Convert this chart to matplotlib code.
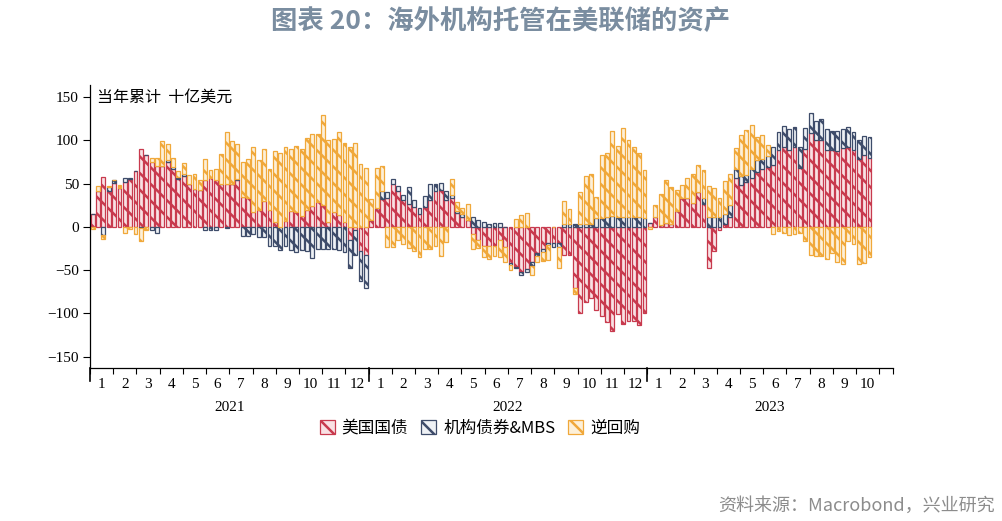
import numpy as np
import matplotlib
matplotlib.use("Agg")
import matplotlib.pyplot as plt
import matplotlib.transforms as mtransforms

plt.rcParams['font.family'] = ['Noto Sans CJK SC', 'DejaVu Sans']
plt.rcParams['hatch.linewidth'] = 1.8

# 当年累计（十亿美元），每周一个柱：2021、2022 各 52 周，2023 至 10 月 42 周
treasury_2021 = [15, 42, 58, 42, 51, 45, 52, 55, 65, 90, 83, 75, 71, 71, 75, 67, 55, 59, 50, 44,
                 43, 54, 57, 54, 50, 50, 50, 54, 35, 33, 17, 20, 30, 20, 6, 0, 7, 18, 17, 13,
                 20, 24, 29, 25, 6, 17, 14, 6, -15, -4, -28, -32]
agency_2021 = [0, 0, -9, 4, 3, 0, 5, 2, 0, -1, 0, -3, -7, 0, 2, 2, 3, 2, 0, 0,
               0, -3, -3, -3, 0, -1, 0, 1, -10, -10, -8, -12, -12, -22, -22, -27, -22, -27, -29, -27,
               -28, -36, -25, -25, -25, -25, -27, -29, -33, -28, -35, -38]
repo_2021 = [-2, 5, -5, 1, 0, 3, -7, -2, -8, -15, -4, 5, 9, 28, 19, 11, 7, 13, 10, 17,
             11, 25, 9, 13, 34, 60, 49, 41, 40, 45, 75, 57, 60, 47, 82, 85, 85, 72, 77, 77,
             83, 84, 78, 104, 94, 85, 96, 91, 93, 97, 73, 68]

treasury_2022 = [8, 22, 32, 34, 50, 42, 31, 27, 23, 15, 23, 31, 41, 43, 31, 34, 16, 12, 8, -8,
                 -15, -22, -22, -22, -15, -23, -42, -46, -52, -49, -40, -30, -25, -18, -19, -19, -32, -32, -70, -100,
                 -87, -82, -96, -103, -110, -120, -101, -112, -109, -109, -113, -100]
agency_2022 = [0, 0, 10, 6, 5, 5, 6, 19, 8, 7, 13, 19, 9, 8, 10, 3, 3, 3, 0, 12,
               8, 6, 3, 5, 5, 0, -2, -2, -3, -3, -5, -4, -4, -3, -4, -4, 3, 3, 3, 3,
               3, 4, 10, 10, 11, 13, 11, 11, 12, 11, 11, 10]
repo_2022 = [24, 46, 28, -23, -23, -15, -20, -24, -28, -35, -25, -25, -22, -33, -17, 19, 10, 7, 19, -17,
             -9, -13, -15, -12, -20, -17, -6, 9, 14, 16, -10, -6, -10, -17, 0, -25, 27, 18, -7, 37,
             56, 57, 25, 73, 75, 98, 83, 103, 88, 81, 75, 56]

treasury_2023 = [5, 11, 2, 5, 4, 19, 34, 34, 28, 40, 27, -48, -28, -3, 3, 12, 57, 49, 52, 57,
                 64, 67, 69, 72, 89, 93, 89, 92, 68, 90, 109, 100, 101, 89, 89, 88, 91, 93, 89, 78,
                 83, 80]
agency_2023 = [0, 0, 0, 0, 0, 0, 0, 0, 0, 0, 6, 12, 12, 12, 12, 13, 10, 10, 8, 10,
               13, 12, 13, 21, 21, 24, 24, 24, 25, 24, 23, 23, 24, 24, 22, 23, 22, 22, 21, 23,
               22, 24]
repo_2023 = [-2, 14, 36, 49, 42, 24, 15, 23, 33, 32, 33, 35, 33, 22, 38, 36, 24, 47, 52, 51,
             27, 27, 13, -8, -5, -7, -9, -8, -7, -16, -32, -33, -33, -37, -30, -40, -43, -16, -20, -43,
             -42, -35]

years = ['2021', '2022', '2023']
month_labels = [str(m) for m in range(1, 13)]
weeks_per_year = 52

treasury = np.array(treasury_2021 + treasury_2022 + treasury_2023, dtype=float)
agency = np.array(agency_2021 + agency_2022 + agency_2023, dtype=float)
repo = np.array(repo_2021 + repo_2022 + repo_2023, dtype=float)
x = np.arange(len(treasury))

series = [
    ('美国国债', treasury, '#C83A4E', '#F9E1E4'),
    ('机构债券&MBS', agency, '#3E4C6A', '#EEF1F5'),
    ('逆回购', repo, '#F0A83A', '#FDF0D8'),
]

fig = plt.figure(figsize=(10.02, 5.21), dpi=100)
ax = fig.add_axes([0.0898, 0.2937, 0.801, 0.543])

pos_bottom = np.zeros(len(x))
neg_bottom = np.zeros(len(x))
handles = []
for name, vals, col, face in series:
    bottom = np.where(vals >= 0, pos_bottom, neg_bottom)
    b = ax.bar(x, vals, width=0.72, bottom=bottom, color=face, edgecolor=col,
               linewidth=0.9, hatch='\\\\', label=name)
    handles.append(b)
    pos_bottom = pos_bottom + np.where(vals > 0, vals, 0)
    neg_bottom = neg_bottom + np.where(vals < 0, vals, 0)

ax.set_ylim(-163, 164)
x_end = 149.3
ax.set_xlim(-0.5, x_end)
ax.set_yticks([-150, -100, -50, 0, 50, 100, 150])
ax.tick_params(axis='y', direction='out', length=5, width=0.8, labelsize=11, pad=3)
for lab in ax.get_yticklabels():
    lab.set_fontfamily('Liberation Serif')

for s in ['top', 'right']:
    ax.spines[s].set_visible(False)
ax.spines['left'].set_linewidth(0.9)
ax.spines['bottom'].set_linewidth(0.9)

# 月份刻度：边界为短刻度，中间放标签
month_w = weeks_per_year / 12
bounds, centers, labels = [], [], []
for yi in range(len(years)):
    for m in range(12):
        start = yi * weeks_per_year + m * month_w - 0.5
        if start < x_end - 0.1:
            bounds.append(start)
        c = start + month_w / 2
        if c < x_end - month_w / 2:
            centers.append(c)
            labels.append(month_labels[m])
bounds.append(x_end)
ax.set_xticks(centers)
ax.set_xticklabels(labels, fontfamily='Liberation Serif', fontsize=11)
ax.set_xticks(bounds, minor=True)
ax.tick_params(axis='x', which='major', length=0, pad=7)
ax.tick_params(axis='x', which='minor', direction='out', length=4, width=0.8)

trans = mtransforms.blended_transform_factory(ax.transData, ax.transAxes)
for yi, yr in enumerate(years):
    start = yi * weeks_per_year - 0.5
    ax.plot([start, start], [0, -0.045], transform=trans, color='black', lw=1.2, clip_on=False)
    end = min(start + weeks_per_year, x_end)
    ax.text((start + end) / 2, -0.141, yr, transform=trans, ha='center', va='center',
            fontsize=11, fontfamily='Liberation Serif')

ax.text(0.009, 0.958, '当年累计  十亿美元', transform=ax.transAxes, ha='left', va='center',
        fontsize=11.5)

fig.legend(handles=handles, loc='center', bbox_to_anchor=(0.479, 0.178), ncol=3,
           frameon=False, fontsize=12, handlelength=0.9, handleheight=0.9,
           handletextpad=0.4, columnspacing=0.8)

fig.text(0.5, 0.958, '图表 20：海外机构托管在美联储的资产', ha='center', va='center',
         fontsize=19, fontweight='bold', color='#7A8DA0')
fig.text(0.993, 0.03, '资料来源：Macrobond，兴业研究', ha='right', va='center',
         fontsize=13, color='#8C8C8C')

fig.savefig('out.png', dpi=100)
